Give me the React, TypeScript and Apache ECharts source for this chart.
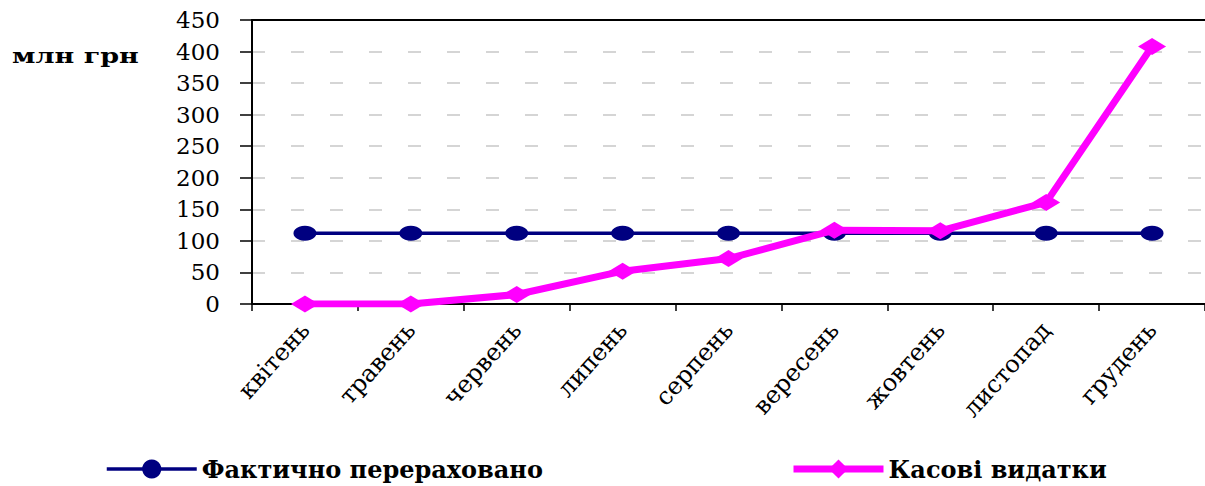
import React, { useEffect, useRef } from "react";
import * as echarts from "echarts";

const categories = ["квітень", "травень", "червень", "липень", "серпень", "вересень", "жовтень", "листопад", "грудень"];
const transferred = [112, 112, 112, 112, 112, 112, 112, 112, 112];
const cashExpenses = [0, 0, 15, 52, 72, 117, 116, 161, 408];
const seriesNames = ["Фактично перераховано", "Касові видатки"];
const yTicks = { min: 0, max: 450, interval: 50 };
const unitLabel = "млн грн";

const FONT = "'DejaVu Serif', 'Liberation Serif', serif";

export default function App() {
  const ref = useRef<HTMLDivElement>(null);
  useEffect(() => {
    if (!ref.current) return;
    const chart = echarts.init(ref.current, null, { renderer: "svg" });
    const legendText = { fontFamily: FONT, fontWeight: "bold" as const, fontSize: 24, color: "#000", lineHeight: 26 };
    const legendCommon = {
      top: 451,
      itemWidth: 90,
      itemHeight: 24,
      lineStyle: { width: "inherit" },
      textStyle: legendText,
    };
    chart.setOption({
      animation: false,
      backgroundColor: "#ffffff",
      grid: { left: 252, top: 20, bottom: 182, right: -7, containLabel: false },
      graphic: [
        {
          type: "text",
          x: 12,
          y: 46,
          scaleX: 1.35,
          style: { text: unitLabel, font: `bold 20px ${FONT}`, fill: "#000" },
        },
      ],
      legend: [
        { ...legendCommon, data: [seriesNames[0]], left: 100 },
        { ...legendCommon, data: [seriesNames[1]], left: 785 },
      ],
      xAxis: [
        {
          type: "category",
          data: categories,
          boundaryGap: true,
          axisLine: { show: true, lineStyle: { color: "#000", width: 2 } },
          axisTick: { show: true, length: 7, lineStyle: { color: "#000", width: 1.5 } },
          axisLabel: {
            rotate: 48,
            margin: 22,
            fontFamily: FONT,
            fontSize: 24,
            color: "#000",
            interval: 0,
          },
          splitLine: { show: false },
        },
        {
          type: "category",
          position: "top",
          data: categories,
          axisLine: { show: true, lineStyle: { color: "#000", width: 2 } },
          axisTick: { show: false },
          axisLabel: { show: false },
        },
      ],
      yAxis: {
        type: "value",
        min: yTicks.min,
        max: yTicks.max,
        interval: yTicks.interval,
        axisLine: { show: true, lineStyle: { color: "#000", width: 2 } },
        axisTick: { show: true, inside: false, length: 12, lineStyle: { color: "#000", width: 1.5 } },
        axisLabel: { margin: 32, fontFamily: FONT, fontSize: 23, color: "#000" },
        splitLine: {
          show: true,
          showMinLine: false,
          showMaxLine: false,
          lineStyle: { color: "#c8c8c8", width: 1.5, type: [13, 26] },
        },
      },
      series: [
        {
          name: seriesNames[0],
          type: "line",
          data: transferred,
          symbol: "circle",
          symbolSize: [23, 15],
          lineStyle: { color: "#000080", width: 3.5 },
          itemStyle: { color: "#000080" },
          z: 2,
        },
        {
          name: seriesNames[1],
          type: "line",
          data: cashExpenses,
          symbol: "diamond",
          symbolSize: [28, 17],
          lineStyle: { color: "#ff00ff", width: 7 },
          itemStyle: { color: "#ff00ff" },
          z: 3,
        },
      ],
    });
    return () => chart.dispose();
  }, []);
  return (
    <div
      ref={ref}
      style={{ position: "fixed", left: 0, top: 0, width: 1205, height: 486, background: "#fff" }}
    />
  );
}
